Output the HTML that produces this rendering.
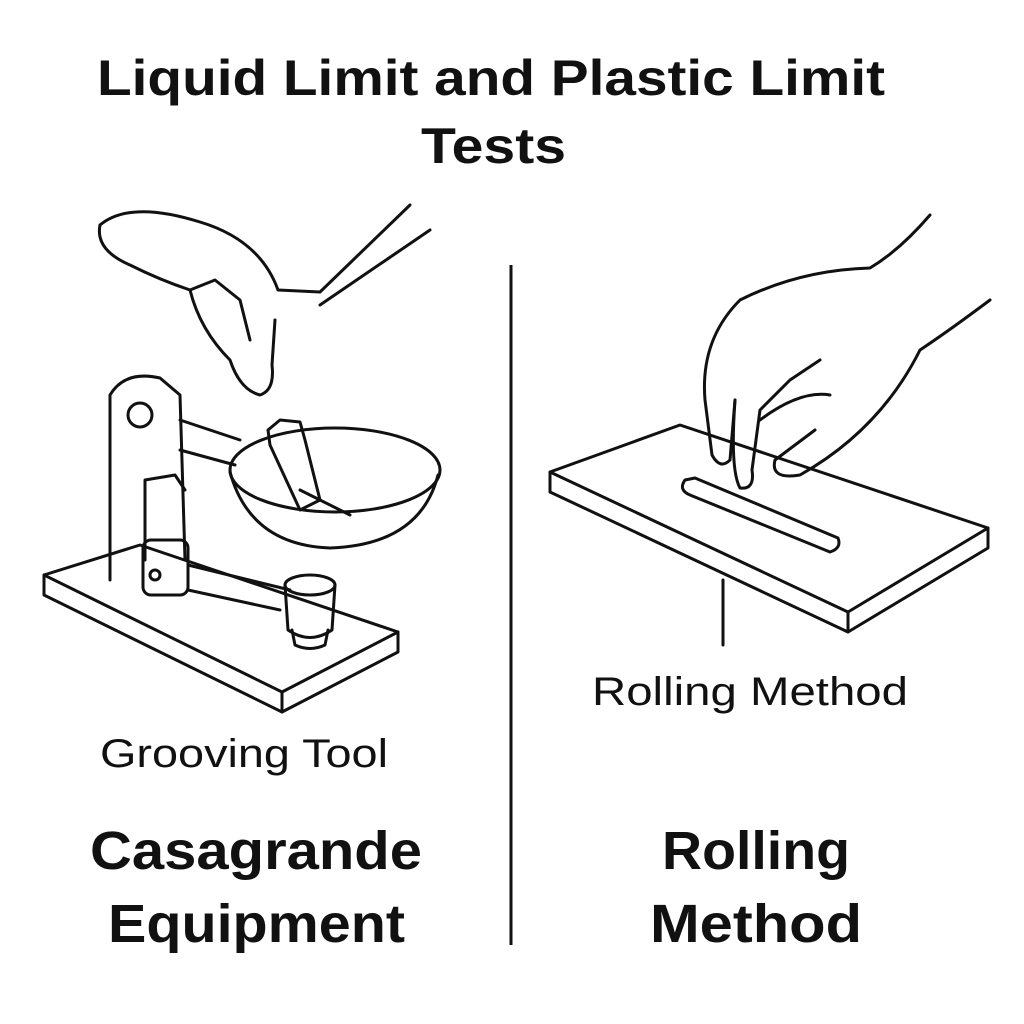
<!DOCTYPE html>
<html><head><meta charset="utf-8"><style>
html,body{margin:0;padding:0;background:#fff}
svg{display:block}
text{font-family:"Liberation Sans",sans-serif;fill:#111}
</style></head><body>
<svg width="1024" height="1024" viewBox="0 0 1024 1024" xmlns="http://www.w3.org/2000/svg">
<rect width="1024" height="1024" fill="#fff"/>
<text x="97" y="95" font-size="50" font-weight="bold" textLength="788" lengthAdjust="spacingAndGlyphs">Liquid Limit and Plastic Limit</text>
<text x="421" y="163" font-size="50" font-weight="bold" textLength="145" lengthAdjust="spacingAndGlyphs">Tests</text>
<line x1="511" y1="265" x2="511" y2="945" stroke="#111" stroke-width="3"/>
<g fill="none" stroke="#111" stroke-width="3" stroke-linejoin="round" stroke-linecap="round">
<path d="M44 575 L140 545 L398 632 L398 652 L282 712 L44 595 Z"/>
<path d="M44 575 L282 692 L398 632 M282 692 L282 712"/>
<path d="M110 580 L110 395 Q125 370 160 378 L180 395 L185 560"/>
<circle cx="140" cy="415" r="12"/>
<path d="M145 560 L145 480 L175 475 L185 490"/>
<rect x="143" y="540" width="45" height="55" rx="8"/>
<circle cx="155" cy="575" r="5"/>
<path d="M180 420 L240 440 M180 450 L235 465"/>
<path d="M188 590 L280 610 M188 565 L290 590"/>
<ellipse cx="335" cy="470" rx="105" ry="42"/>
<path d="M230 472 Q250 545 330 548 Q420 545 438 475"/>
<path d="M268 430 L280 420 L300 422 L305 440 L320 500 L300 510 L270 445 Z"/>
<path d="M300 490 L350 515"/>
<ellipse cx="310" cy="585" rx="25" ry="10"/>
<path d="M285 585 L288 630 Q310 645 332 630 L335 585"/>
<path d="M292 630 L295 645 Q310 652 325 645 L328 630"/>
<path d="M100 225 Q130 200 200 222 Q260 240 278 290 L320 292 L410 205"/>
<path d="M320 305 L430 230"/>
<path d="M100 225 Q95 250 130 265 Q160 280 190 290 Q200 330 230 360 Q240 390 260 395 Q275 390 272 365 L275 320"/>
<path d="M190 290 L215 280 L240 300 L250 340"/>
<path d="M550 472 L680 425 L988 528 L988 548 L848 632 L550 492 Z"/>
<path d="M550 472 L848 612 L988 528 M848 612 L848 632"/>
<path d="M685 480 Q678 490 690 495 L830 552 Q842 548 838 538 L695 478 Z"/>
<line x1="723" y1="580" x2="723" y2="645"/>
<path d="M990 300 Q950 330 920 350 Q880 430 800 475 Q770 480 775 460 L815 430"/>
<path d="M930 215 Q900 250 870 268 Q800 270 740 300 Q700 340 705 400 L712 455 Q720 470 730 460 L735 400"/>
<path d="M735 400 Q730 470 740 488 Q755 490 752 470 L760 410 L790 380 L820 360"/>
<path d="M760 420 Q800 390 830 395"/>
</g>
<text x="100" y="767" font-size="40" textLength="288" lengthAdjust="spacingAndGlyphs">Grooving Tool</text>
<text x="592" y="705" font-size="40" textLength="316" lengthAdjust="spacingAndGlyphs">Rolling Method</text>
<text x="90" y="869" font-size="54" font-weight="bold" textLength="332" lengthAdjust="spacingAndGlyphs">Casagrande</text>
<text x="108" y="942" font-size="54" font-weight="bold" textLength="297" lengthAdjust="spacingAndGlyphs">Equipment</text>
<text x="662" y="869" font-size="54" font-weight="bold" textLength="188" lengthAdjust="spacingAndGlyphs">Rolling</text>
<text x="650" y="942" font-size="54" font-weight="bold" textLength="212" lengthAdjust="spacingAndGlyphs">Method</text>
</svg>
</body></html>
